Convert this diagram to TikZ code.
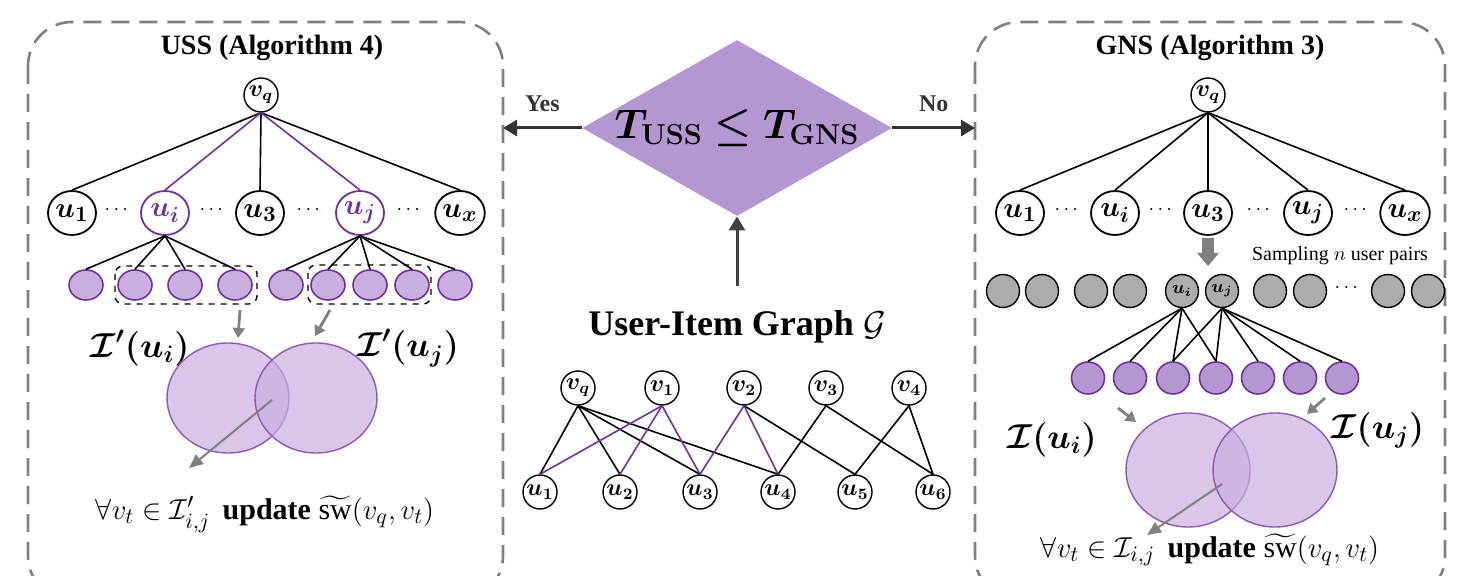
\documentclass[tikz,border=0pt]{standalone}
\usepackage{fontspec}
\usepackage{amsmath,amssymb,bm}
\setmainfont{Liberation Serif}
\usetikzlibrary{shapes.geometric,arrows.meta}
\definecolor{vio}{HTML}{7030A0}
\definecolor{lilac}{HTML}{C9AEDF}
\definecolor{dia}{HTML}{B497D0}
\definecolor{pan}{HTML}{7F7F7F}
\tikzset{
  unode/.style={draw,ellipse,line width=0.9pt,minimum width=24pt,minimum height=22pt,inner sep=0pt,font=\fontsize{15}{17}\selectfont},
  snode/.style={draw,circle,line width=0.7pt,minimum size=17pt,inner sep=0pt,font=\fontsize{12}{14}\selectfont},
  leaf/.style={draw=vio,fill=lilac,ellipse,line width=0.8pt,minimum width=17pt,minimum height=15pt,inner sep=0pt},
  gdot/.style={draw,fill=gray!65,circle,line width=0.7pt,minimum size=16.5pt,inner sep=0pt,font=\fontsize{9}{10}\selectfont},
  panel/.style={draw=pan,line width=1.3pt,dash pattern=on 9pt off 5pt,rounded corners=22pt},
  garr/.style={draw=gray,line width=1.4pt,-{Triangle[length=5pt,width=6pt]}},
  venn/.style={draw=vio!80,line width=0.7pt,fill=lilac,fill opacity=0.7},
  lbl/.style={font=\fontsize{17}{19}\selectfont}
}
\begin{document}
\begin{tikzpicture}[x=0.5pt,y=-0.5pt]
  \useasboundingbox (0,0) rectangle (1470,576);
  % panels
  \draw[panel] (28,22) rectangle (503,600);
  \draw[panel] (975,22) rectangle (1445,600);
  % left panel: USS
  \node[font=\fontsize{14}{16}\selectfont\bfseries] (ltitle) at (272,48) {USS (Algorithm 4)};
  \node[snode] (lvq) at (261,95) {$\bm{v_q}$};
  \node[unode] (lu1) at (72,213) {$\bm{u_1}$};
  \node[unode,draw=vio,text=vio] (lui) at (165,213) {$\bm{u_i}$};
  \node[unode] (lu3) at (260,213) {$\bm{u_3}$};
  \node[unode,draw=vio,text=vio] (luj) at (360,213) {$\bm{u_j}$};
  \node[unode] (lux) at (460,213) {$\bm{u_x}$};
  \foreach \x in {118,213,310,410} \node at (\x,210) {$\cdots$};
  \draw[line width=0.8pt] (lvq.south) -- (lu1.north) (lvq.south) -- (lu3.north) (lvq.south) -- (lux.north);
  \draw[line width=0.8pt,vio] (lvq.south) -- (lui.north) (lvq.south) -- (luj.north);
  \foreach \x [count=\k] in {86,135,185,235} {
    \node[leaf] (la\k) at (\x,285) {};
    \draw[line width=0.8pt] (lui.south) -- (la\k.north);}
  \foreach \x [count=\k] in {286,328,370,412,455} {
    \node[leaf] (lb\k) at (\x,285) {};
    \draw[line width=0.8pt] (luj.south) -- (lb\k.north);}
  \draw[dashed,rounded corners=4pt,line width=0.7pt] (115,266) rectangle (257,304);
  \draw[dashed,rounded corners=4pt,line width=0.7pt] (308,265) rectangle (431,304);
  \node[lbl] (lii) at (140,348) {$\bm{\mathcal{I}'(u_i)}$};
  \node[lbl] (lij) at (408,348) {$\bm{\mathcal{I}'(u_j)}$};
  \draw[garr] (240,310) -- (238,338);
  \draw[garr] (330,310) -- (315,336);
  \draw[venn] (228,398) ellipse (61 and 55);
  \draw[venn] (316,398) ellipse (61 and 55);
  \coordinate (lmid) at (272,400);
  \node[font=\fontsize{15}{17}\selectfont] (lupd) at (265,514) {$\forall v_t \in \mathcal{I}'_{i,j}$\, \textbf{update} $\widetilde{\mathrm{sw}}(v_q,v_t)$};
  \draw[draw=gray,line width=1pt,-{Triangle[length=7pt,width=6pt]}] (lmid) -- (189,468);
  % middle
  \node[diamond,aspect=1.76,fill=dia,minimum width=153pt,minimum height=87pt,inner sep=0pt,font=\fontsize{20}{22}\selectfont] (cmp) at (737,128) {$\bm{T_{\mathbf{USS}} \le T_{\mathbf{GNS}}}$};
  \coordinate (yes) at (503,128);
  \coordinate (no) at (975,128);
  \draw[line width=1.5pt,-{Triangle[length=7pt,width=8pt]},black!80] (cmp.west) -- node[above,font=\fontsize{12}{14}\selectfont\bfseries,yshift=4pt] {Yes} (yes);
  \draw[line width=1.5pt,-{Triangle[length=7pt,width=8pt]},black!80] (cmp.east) -- node[above,font=\fontsize{12}{14}\selectfont\bfseries,yshift=4pt] {No} (no);
  \node[font=\fontsize{18}{20}\selectfont\bfseries] (gtitle) at (737,327) {User-Item Graph $\mathcal{G}$};
  \coordinate (gtop) at (737,286);
  \draw[line width=1.5pt,-{Triangle[length=7pt,width=8pt]},black!75] (gtop) -- (cmp.south);
  \foreach \n/\x/\t in {q/578/q,1/662/1,2/744/2,3/826/3,4/909/4}
    \node[snode] (gv\n) at (\x,388) {$\bm{v_\t}$};
  \foreach \n/\x in {1/540,2/620,3/700,4/778,5/855,6/933}
    \node[snode] (gu\n) at (\x,492) {$\bm{u_\n}$};
  \foreach \a/\b in {vq/u1,vq/u2,vq/u3,vq/u4,v2/u5,v3/u4,v3/u6,v4/u5,v4/u6}
    \draw[line width=0.8pt] (g\a.south) -- (g\b.north);
  \foreach \a/\b in {v1/u1,v1/u2,v1/u3,v2/u3,v2/u4}
    \draw[line width=0.8pt,vio] (g\a.south) -- (g\b.north);
  % right panel: GNS
  \node[font=\fontsize{14}{16}\selectfont\bfseries] (rtitle) at (1210,48) {GNS (Algorithm 3)};
  \node[snode] (rvq) at (1208,95) {$\bm{v_q}$};
  \foreach \n/\x/\t in {1/1020/1,i/1115/i,3/1208/3,j/1308/j,x/1405/x} {
    \node[unode] (ru\n) at (\x,213) {$\bm{u_\t}$};
    \draw[line width=0.8pt] (rvq.south) -- (ru\n.north);}
  \foreach \x in {1068,1162,1260,1357} \node at (\x,210) {$\cdots$};
  \draw[gray,line width=6pt] (1208,238) -- (1208,254);
  \fill[gray] (1197,253) -- (1219,253) -- (1208,266) -- cycle;
  \node[font=\fontsize{10}{12}\selectfont] (samp) at (1340,256) {Sampling $n$ user pairs};
  \foreach \x [count=\k] in {1003,1042,1091,1130,1270,1310,1388,1428}
    \node[gdot] (rg\k) at (\x,291) {};
  \node at (1348,288) {$\cdots$};
  \node[gdot] (rgi) at (1182,291) {$\bm{u_i}$};
  \node[gdot] (rgj) at (1222,291) {$\bm{u_j}$};
  \foreach \x [count=\k] in {1088,1130,1173,1216,1258,1300,1342}
    \node[leaf,fill=dia,minimum width=16.5pt,minimum height=16pt] (rl\k) at (\x,378) {};
  \foreach \k in {1,2,3,4} \draw[line width=0.8pt] (rgi.south) -- (rl\k.north);
  \foreach \k in {3,4,5,6,7} \draw[line width=0.8pt] (rgj.south) -- (rl\k.north);
  \node[lbl] (rii) at (1052,440) {$\bm{\mathcal{I}(u_i)}$};
  \node[lbl] (rij) at (1378,430) {$\bm{\mathcal{I}(u_j)}$};
  \draw[garr] (1118,408) -- (1136,422);
  \draw[garr] (1325,398) -- (1307,414);
  \draw[venn] (1188,470) ellipse (62 and 57);
  \draw[venn] (1275,470) ellipse (62 and 57);
  \coordinate (rmid) at (1222,484);
  \node[font=\fontsize{15}{17}\selectfont] (rupd) at (1210,550) {$\forall v_t \in \mathcal{I}_{i,j}$\, \textbf{update} $\widetilde{\mathrm{sw}}(v_q,v_t)$};
  \draw[draw=gray,line width=1pt,-{Triangle[length=7pt,width=6pt]}] (rmid) -- (1147,535);
\end{tikzpicture}
\end{document}
